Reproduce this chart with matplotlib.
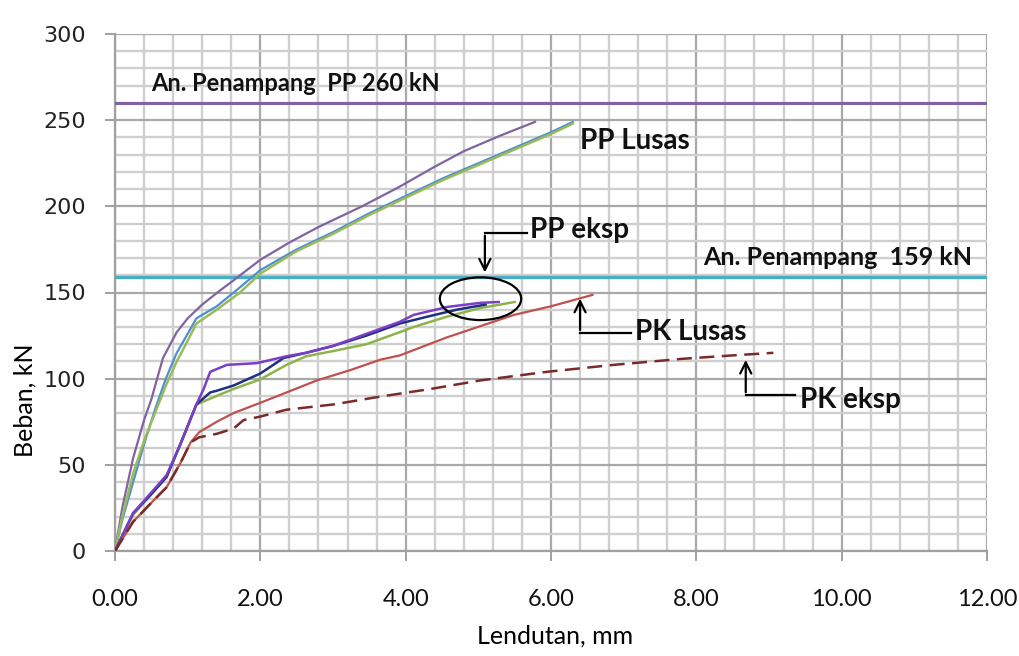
import numpy as np
import matplotlib
matplotlib.use("Agg")
import matplotlib.pyplot as plt
from matplotlib.patches import Ellipse
from matplotlib.ticker import MultipleLocator, FormatStrFormatter

# PP Lusas (three model curves)
pp_lusas_a_x = [0, 0.1, 0.25, 0.4, 0.5, 0.66, 0.85, 1.0, 1.2, 1.44, 1.63, 2.0, 2.4, 2.8, 3.4, 3.9, 4.4, 4.8, 5.3, 5.78]
pp_lusas_a_y = [0, 25, 54, 76, 88, 112, 127, 135, 143, 151, 157, 169, 179, 188, 200, 211, 223, 232, 241, 249]
pp_lusas_b_x = [0, 0.1, 0.25, 0.4, 0.55, 0.7, 0.85, 1.0, 1.12, 1.4, 1.72, 2.0, 2.5, 3.0, 3.5, 4.0, 4.5, 5.0, 5.5, 6.0, 6.3]
pp_lusas_b_y = [0, 18, 40, 62, 82, 100, 115, 126, 135, 142, 153, 163, 175, 185, 196, 206, 216, 225, 234, 243, 249]
pp_lusas_c_x = [0, 0.1, 0.25, 0.4, 0.55, 0.7, 0.85, 1.0, 1.12, 1.4, 1.72, 2.0, 2.5, 3.0, 3.5, 4.0, 4.5, 5.0, 5.5, 6.0, 6.3]
pp_lusas_c_y = [0, 20, 45, 64, 80, 96, 110, 122, 132, 140, 150, 161, 174, 184, 195, 205, 215, 224, 233, 242, 248]

# PP eksp (three specimens)
pp_eksp_a_x = [0, 0.25, 0.5, 0.71, 0.9, 1.12, 1.22, 1.31, 1.54, 1.95, 2.36, 2.63, 3.0, 3.46, 3.92, 4.11, 4.57, 5.03, 5.28]
pp_eksp_a_y = [0, 22, 34, 44, 62, 85, 94, 104, 108, 109, 113, 115, 119, 126, 133, 137, 141.6, 144, 144.5]
pp_eksp_b_x = [0, 0.25, 0.5, 0.71, 0.9, 1.12, 1.31, 1.4, 1.63, 2.0, 2.32, 2.63, 3.0, 3.46, 3.92, 4.3, 4.7, 5.1]
pp_eksp_b_y = [0, 22, 33, 43, 62, 85, 92, 93, 96, 103, 112, 115, 119, 125, 132, 136, 140, 143]
pp_eksp_c_x = [0, 0.25, 0.5, 0.71, 0.9, 1.12, 1.4, 1.63, 2.0, 2.36, 2.63, 3.0, 3.46, 3.92, 4.11, 4.57, 5.03, 5.5]
pp_eksp_c_y = [0, 21, 33, 43, 62, 85, 90, 94, 99.6, 108, 113, 116, 120, 127, 130, 136, 141, 144.5]

# PK Lusas and PK eksp
pk_lusas_x = [0, 0.25, 0.5, 0.71, 0.9, 1.04, 1.16, 1.4, 1.63, 2.0, 2.36, 2.78, 3.24, 3.65, 3.92, 4.57, 5.49, 6.0, 6.57]
pk_lusas_y = [0, 17, 28, 37, 51, 63, 69, 75, 80, 86, 92, 99, 105, 111, 113.5, 124, 137, 142, 148.6]
pk_eksp_x = [0, 0.25, 0.5, 0.71, 0.9, 1.04, 1.16, 1.4, 1.63, 1.77, 2.0, 2.36, 3.0, 3.65, 4.34, 5.03, 5.95, 6.86, 7.8, 8.5, 9.06]
pk_eksp_y = [0, 17, 28, 37, 51, 63, 66, 68, 71, 76, 78, 82, 85, 89.6, 94, 99, 104, 108, 111.5, 113.5, 115]

cap_pp = 260
cap_pk = 159

fig = plt.figure(figsize=(10.2, 6.56), dpi=100)
ax = fig.add_axes([115 / 1020, 1 - 551 / 656, 872 / 1020, 517 / 656])

ax.axhline(cap_pp, color="#8064a2", lw=2.2, zorder=3)
ax.axhline(cap_pk, color="#4bacc6", lw=2.4, zorder=3)

ax.plot(pp_lusas_a_x, pp_lusas_a_y, color="#8064a2", lw=1.6, zorder=4)
ax.plot(pp_lusas_b_x, pp_lusas_b_y, color="#4f8fd0", lw=1.6, zorder=4)
ax.plot(pp_lusas_c_x, pp_lusas_c_y, color="#9bbb59", lw=1.8, zorder=4)

ax.plot(pp_eksp_c_x, pp_eksp_c_y, color="#8fb34a", lw=1.8, zorder=4)
ax.plot(pp_eksp_b_x, pp_eksp_b_y, color="#1f3080", lw=1.8, zorder=4)
ax.plot(pp_eksp_a_x, pp_eksp_a_y, color="#7a3ec8", lw=1.8, zorder=4)

ax.plot(pk_lusas_x, pk_lusas_y, color="#c0504d", lw=1.6, zorder=4)
ax.plot(pk_eksp_x, pk_eksp_y, color="#7a2a2a", lw=1.8, dashes=(6, 3), zorder=4)

ax.set_xlim(0, 12)
ax.set_ylim(0, 300)
ax.xaxis.set_major_locator(MultipleLocator(2))
ax.xaxis.set_minor_locator(MultipleLocator(0.4))
ax.yaxis.set_major_locator(MultipleLocator(50))
ax.yaxis.set_minor_locator(MultipleLocator(10))
ax.xaxis.set_major_formatter(FormatStrFormatter("%.2f"))
ax.grid(which="minor", color="#cfcfcf", lw=1.7)
ax.grid(which="major", color="#a8a8a8", lw=1.6)
ax.set_axisbelow(True)

for side in ["top", "right"]:
    ax.spines[side].set_visible(False)
for side in ["left", "bottom"]:
    ax.spines[side].set_color("#a0a0a0")
    ax.spines[side].set_linewidth(1.6)

ax.tick_params(which="minor", length=0)
ax.tick_params(axis="y", which="major", length=7, width=1.4, color="#a0a0a0", pad=14)
ax.tick_params(axis="x", which="major", length=7, width=1.4, color="#a0a0a0", pad=20)
for lab in ax.get_yticklabels():
    lab.set_fontfamily("DejaVu Sans")
    lab.set_fontsize(16)
    lab.set_color("#222222")
for lab in ax.get_xticklabels():
    lab.set_fontfamily("Lato")
    lab.set_fontsize(17)
    lab.set_color("#111111")

fig.text(555 / 1020, 1 - 636 / 656, "Lendutan, mm", family="Lato", fontsize=18,
         ha="center", va="center")
fig.text(25 / 1020, 1 - 400 / 656, "Beban, kN", family="Lato", fontsize=18,
         ha="center", va="center", rotation=90)

bold = dict(family="Lato", fontweight="bold", color="#111111")
ax.text(0.5, 271, "An. Penampang  PP 260 kN", ha="left", va="center", fontsize=17, **bold)
ax.text(8.1, 170.5, "An. Penampang  159 kN", ha="left", va="center", fontsize=18, **bold)
ax.text(6.4, 238, "PP Lusas", ha="left", va="center", fontsize=20, **bold)
ax.text(5.71, 186, "PP eksp", ha="left", va="center", fontsize=20, **bold)
ax.text(7.16, 127, "PK Lusas", ha="left", va="center", fontsize=20, **bold)
ax.text(9.43, 87.6, "PK eksp", ha="left", va="center", fontsize=20, **bold)

ax.add_patch(Ellipse((5.03, 146.4), 1.12, 24.8, fill=False, ec="black", lw=1.6, zorder=5))

arrow = dict(arrowstyle="->", color="black", lw=1.6, mutation_scale=20)
ax.plot([5.09, 5.67], [184.6, 184.6], color="black", lw=1.6, zorder=5)
ax.annotate("", xy=(5.09, 160), xytext=(5.09, 184.6), arrowprops=arrow, zorder=5)
ax.plot([6.4, 7.1], [126.7, 126.7], color="black", lw=1.6, zorder=5)
ax.annotate("", xy=(6.4, 148), xytext=(6.4, 126.7), arrowprops=arrow, zorder=5)
ax.plot([8.68, 9.36], [90.5, 90.5], color="black", lw=1.6, zorder=5)
ax.annotate("", xy=(8.68, 112.5), xytext=(8.68, 90.5), arrowprops=arrow, zorder=5)

fig.savefig("out.png", dpi=100)
